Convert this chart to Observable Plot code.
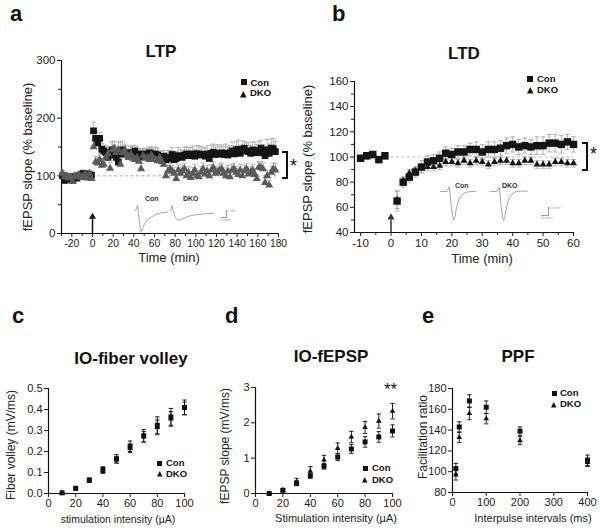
<!DOCTYPE html>
<html><head><meta charset="utf-8">
<script src="https://cdn.jsdelivr.net/npm/d3@7"></script>
<script src="https://cdn.jsdelivr.net/npm/@observablehq/plot@0.6"></script>
<style>
body{margin:0;background:#fff;}
#fig{position:relative;width:600px;height:530px;font-family:"Liberation Sans",Arial,Helvetica,sans-serif;color:#222;overflow:hidden;background:#fff;}
.t{position:absolute;white-space:nowrap;line-height:1;}
.letter{font-weight:bold;font-size:22px;color:#111;}
.title{font-weight:bold;font-size:17px;transform:translateX(-50%);color:#111;}
.xl{transform:translateX(-50%);}
.yl{transform:translate(-50%,-50%) rotate(-90deg);}
.leg{font-weight:bold;font-size:9.5px;color:#111;}
.abs{position:absolute;}
</style>
</head><body><div id="fig"></div>
<script>
// ---------------- DATA ----------------
// Panel a: LTP (time in min, fEPSP slope % baseline, SEM)
const ltpTime = [-29,-27,-25,-23,-21,-19,-17,-15,-13,-11,-9,-7,-5,-3,-1,
 1,3,5,7,9,11,13,15,17,19,21,23,25,27,29,31,33,35,37,39,41,43,45,47,49,51,53,55,57,59,
 61,63,65,67,69,71,73,75,77,79,81,83,85,87,89,91,93,95,97,99,101,103,105,107,109,111,113,115,117,119,
 121,123,125,127,129,131,133,135,137,139,141,143,145,147,149,151,153,155,157,159,161,163,165,167,169,171,173,175,177];
const ltpCon = [100,92,94,97,98,93,98,96,100,102,104,101,103,102,101,
 178,165,157,165,146,143,140,132,136,145, 141,132,124,138,145,138,140,134,136,140,
 143,138,135,133,138,134,136,140,138,134, 138,136,130,131,134,128,130,132,137,128,
 130,135,133,132,136,138,135,137,138,134, 138,138,136,137,134,138,130,139,141,137,
 138,139,140,137,139,136,140,143,138,145, 146,139,144,148,143,142,139,145,142,140,
 144,148,140,135,145,139,148,147,142];
const ltpConErr = [8,7,6,6,6,7,6,6,5,6,6,5,6,6,6,
 15,12,12,10,10,10,12,14,12,14, 12,14,16,20,15,14,12,12,14,12,
 10,12,12,12,10,12,12,10,12,12, 12,12,12,12,10,12,14,12,12,14,
 12,14,12,12,14,12,14,12,14,12, 14,14,14,12,14,14,12,14,14,14,
 16,12,14,14,16,14,12,16,14,14, 16,14,16,12,14,16,14,14,16,14,
 16,14,14,16,18,16,16,18,18];
const ltpDko = [104,98,100,96,98,90,100,98,102,97,100,103,96,104,95,
 150,124,122,128,118,120,132,138,113,145, 148,140,145,120,140,143,135,132,138,130,
 128,132,125,112,135,130,132,128,136,130, 128,126,132,124,120,100,108,112,108,104,
 95,110,104,108,112,100,106,97,104,110, 100,98,106,112,103,108,100,110,114,104,
 106,110,112,104,100,108,98,110,112,106, 102,110,100,108,112,103,106,110,102,95,
 115,114,112,88,100,84,106,112,110];
const ltpDkoErr = [6,6,6,6,6,6,6,6,5,5,6,6,6,6,6,
 12,10,10,10,12,10,10,12,10,14, 12,12,14,12,12,12,12,12,14,12,
 10,10,12,10,12,12,10,10,12,10, 10,12,10,10,10,8,10,10,10,10,
 8,10,10,10,10,10,10,8,10,10, 10,8,10,10,8,10,10,10,10,10,
 10,10,10,10,10,10,8,10,10,10, 10,10,10,10,10,10,10,10,10,8,
 10,10,10,8,10,8,10,10,12];

// Panel b: LTD
const ltdTime = [-10,-8,-6,-4,-2, 2,4,6,8,10,12,14,16,18,20,22,24,26,28,30,32,34,36,38,40,42,44,46,48,50,52,54,56,58,60];
const ltdCon = [99,101,102,98,101, 65,80,84,88,92,96,97,99,103,102, 104,104,106,106,104,106,106,107,109,110, 108,109,108,109,109,111,111,110,112,110];
const ltdConErr = [2,2,2,2,2, 8,4,4,4,5,5,5,5,5,5, 5,5,5,6,6,6,6,6,6,6, 6,6,6,7,7,7,7,7,6,6];
const ltdDko = [99,100,101,97,100, 66,81,87,89,91,92,92,93,96,96, 95,97,95,97,96,94,96,97,97,95, 95,97,97,94,94,94,96,96,95,95];
const ltdDkoErr = [2,2,2,2,2, 7,3,3,3,3,3,3,3,3,3, 3,3,3,3,3,3,3,3,3,3, 3,3,3,3,3,3,3,3,3,3];

// Panel c / d: input-output (stimulation intensity, µA)
const ioIntensity = [10,20,30,40,50,60,70,80,90,100];
const fvCon = [0.003,0.025,0.065,0.115,0.165,0.225,0.275,0.325,0.365,0.41];
const fvConErr = [0.003,0.005,0.007,0.012,0.02,0.025,0.03,0.04,0.04,0.035];
const fvDko = [0.002,0.022,0.06,0.105,0.16,0.215,0.27,0.315,0.355,0.405];
const fvDkoErr = [0.003,0.005,0.007,0.01,0.015,0.02,0.025,0.035,0.035,0.03];
const epCon = [0,0.09,0.29,0.5,0.77,1.03,1.26,1.46,1.6,1.77];
const epConErr = [0.02,0.04,0.07,0.07,0.08,0.1,0.13,0.15,0.15,0.17];
const epDko = [0,0.1,0.33,0.63,0.95,1.28,1.6,1.87,2.05,2.33];
const epDkoErr = [0.02,0.04,0.1,0.13,0.13,0.15,0.16,0.17,0.2,0.22];

// Panel e: PPF
const ppfInterval = [10,20,50,100,200,400];
const ppfCon = [103,143,168,162,139,111];
const ppfConErr = [5,5,6,6,4,5];
const ppfDko = [97,133,156,151,130,109];
const ppfDkoErr = [5,5,6,5,4,4];

// Stimulus time and baseline reference
const stimTime = [0];
const baselineLevel = [100];

// Example traces (ms, mV)
const ltpTraceConT = [0,1,2,3,4,5,6,7,9,12,15,20,25,32];
const ltpTraceConV = [0,0.3,0.7,-0.4,-1.6,-2.8,-3.1,-2.6,-1.9,-1.3,-1.0,-0.6,-0.35,-0.2];
const ltpTraceDkoT = [0,1,1.7,2.5,4,5.5,7,9,12,16,20,26,32,38,43];
const ltpTraceDkoV = [0,0.3,0.7,0.1,-0.6,-1.1,-1.4,-1.35,-1.2,-0.95,-0.75,-0.6,-0.5,-0.45,-0.4];
const ltdTraceConT = [0,8,11,12,13.5,15,16.5,18,20,23,27,32,38,44];
const ltdTraceConV = [0,0,0.3,-0.2,-0.9,-1.5,-1.78,-1.6,-1.0,-0.5,-0.2,-0.05,0,0];
const ltdTraceDkoT = [0,8,11,12,13.5,15,16.5,18,20,23,27,32,38,46];
const ltdTraceDkoV = [0,0,0.25,-0.2,-1.0,-1.6,-1.82,-1.6,-1.0,-0.45,-0.15,0,0.02,0.02];

// Tick labels
const ltpXTicks = [-20,0,20,40,60,80,100,120,140,160,180];
const ltpXMinor = [-30,-10,10,30,50,70,90,110,130,150,170];
const ltpYTicks = [0,100,200,300];
const ltpYMinor = [50,150,250];
const ltdXTicks = [-10,0,10,20,30,40,50,60];
const ltdXMinor = [-5,5,15,25,35,45,55];
const ltdYTicks = [40,60,80,100,120,140,160];
const ltdYMinor = [50,70,90,110,130,150];
const ioXTicks = [0,20,40,60,80,100];
const fvYTicks = [0,0.1,0.2,0.3,0.4,0.5];
const epYTicks = [0,1,2,3];
const ppfXTicks = [0,100,200,300,400];
const ppfYTicks = [80,100,120,140,160,180];

// ---------------- HELPERS ----------------
const fig = document.getElementById("fig");
const FONT = '"Liberation Sans", Arial, Helvetica, sans-serif';
const cap = {draw(ctx, size){ const w = Math.sqrt(size/Math.PI); ctx.moveTo(-w,0); ctx.lineTo(w,0); }};
const rows = (x, v, e) => x.map((t,i) => ({x:t, v:v[i], e:e ? e[i] : 0}));

function text(str, cls, left, top, extra){
  const d = document.createElement("div");
  d.className = "t " + cls;
  d.textContent = str;
  d.style.left = left + "px"; d.style.top = top + "px";
  if (extra) Object.assign(d.style, extra);
  fig.appendChild(d);
  return d;
}
function place(svg, left, top){
  svg.style.position = "absolute"; svg.style.left = left + "px"; svg.style.top = top + "px";
  fig.appendChild(svg);
}
function errBars(data, color, capR, up=true, down=true){
  const m = [Plot.ruleX(data, {x:"x", y1: d => down ? d.v - d.e : d.v, y2: d => up ? d.v + d.e : d.v, stroke: color, strokeWidth: 0.9})];
  if (up) m.push(Plot.dot(data, {x:"x", y: d => d.v + d.e, symbol: cap, r: capR, stroke: color, fill: "none", strokeWidth: 0.9}));
  if (down) m.push(Plot.dot(data, {x:"x", y: d => d.v - d.e, symbol: cap, r: capR, stroke: color, fill: "none", strokeWidth: 0.9}));
  return m;
}
function axes(xd, yd, xt, xm, yt, ym, fmt, xfs, yfs){
  const m = [
    Plot.ruleY([yd[0]], {stroke:"#111", strokeWidth:1.2}),
    Plot.ruleX([xd[0]], {stroke:"#111", strokeWidth:1.2}),
    Plot.axisX({ticks: xt, tickSize: 4, tickPadding: 2, label: null, tickFormat: d => String(d), fontSize: xfs}),
    Plot.axisY({ticks: yt, tickSize: 4, tickPadding: 2, label: null, tickFormat: fmt || (d => String(d)), fontSize: yfs})
  ];
  if (xm) m.push(Plot.axisX({ticks: xm, tickSize: 3, label: null, tickFormat: () => ""}));
  if (ym) m.push(Plot.axisY({ticks: ym, tickSize: 3, label: null, tickFormat: () => ""}));
  return m;
}
function panel(o){
  const svg = Plot.plot({
    width: o.width, height: o.height,
    marginLeft: o.ml, marginRight: o.mr, marginTop: o.mt, marginBottom: o.mb,
    x: {domain: o.xd, axis: null}, y: {domain: o.yd, axis: null},
    style: {background: "transparent", fontFamily: FONT, fontSize: (o.yfs||11) + "px", color: "#222", overflow: "visible"},
    marks: [...axes(o.xd, o.yd, o.xt, o.xm, o.yt, o.ym, o.fmt, o.xfs||11, o.yfs||11), ...o.marks]
  });
  place(svg, o.left, o.top);
}
function inset(left, top, xs, ys, xd, yd, px, py){
  const data = xs.map((t,i) => ({t, v: ys[i]}));
  const svg = Plot.plot({
    width: (xd[1]-xd[0])*px, height: (yd[1]-yd[0])*py, margin: 0,
    x: {domain: xd, axis: null}, y: {domain: yd, axis: null},
    style: {background: "transparent", overflow: "visible"},
    marks: [Plot.line(data, {x:"t", y:"v", stroke:"#9a9a9a", strokeWidth: 0.9})]
  });
  place(svg, left, top);
}
function legendItem(kind, cx, cy, label, size, tx, baseline, color){
  const s = document.createElementNS("http://www.w3.org/2000/svg","svg");
  s.setAttribute("width", size+2); s.setAttribute("height", size+2);
  s.style.position = "absolute"; s.style.left = (cx - size/2 - 1) + "px"; s.style.top = (cy - size/2 - 1) + "px";
  const c = size/2 + 1;
  const el = document.createElementNS("http://www.w3.org/2000/svg", kind === "sq" ? "rect" : "path");
  if (kind === "sq"){ el.setAttribute("x", 1); el.setAttribute("y", 1); el.setAttribute("width", size); el.setAttribute("height", size); }
  else { el.setAttribute("d", `M${c},1L${size+1},${size+1}L1,${size+1}Z`); }
  el.setAttribute("fill", color || "#111");
  s.appendChild(el); fig.appendChild(s);
  text(label, "leg", tx, baseline - 9.5*0.9);
}
function bracket(x, y1, y2){
  const d = document.createElement("div");
  d.className = "abs";
  Object.assign(d.style, {left:(x-5)+"px", top:y1+"px", width:"4px", height:(y2-y1)+"px",
    borderTop:"2px solid #111", borderBottom:"2px solid #111", borderRight:"2.5px solid #111"});
  fig.appendChild(d);
}
function scaleBar(x, y, w, h, t1, t2, fs){
  const d = document.createElement("div");
  d.className = "abs";
  Object.assign(d.style, {left:(x-w)+"px", top:(y-h)+"px", width:w+"px", height:h+"px",
    borderRight:"0.8px solid #999", borderBottom:"0.8px solid #999"});
  fig.appendChild(d);
  text(t1, "", x+1.5, y-h, {fontSize: fs+"px", color:"#999"});
  text(t2, "", x-w-1, y+1.5, {fontSize: fs+"px", color:"#999"});
}

// ---------------- PANEL a : LTP ----------------
const aCon = rows(ltpTime, ltpCon, ltpConErr);
const aDko = rows(ltpTime, ltpDko, ltpDkoErr);
panel({left:0, top:40, width:300, height:215, ml:61, mr:22, mt:20, mb:22,
  xd:[-30,180], yd:[0,300], xt:ltpXTicks, xm:ltpXMinor, yt:ltpYTicks, ym:ltpYMinor, xfs:10.3, yfs:11.5,
  marks:[
    Plot.ruleY(baselineLevel, {x1:0, x2:180, stroke:"#aaa", strokeDasharray:"3,2.5", strokeWidth:1}),
    ...errBars(aDko, "#b0b0b0", 2.5, true, false),
    ...errBars(aCon, "#b0b0b0", 2.5, true, false),
    Plot.dot(aCon, {x:"x", y:"v", symbol:"square", r:3.8, fill:"#151515", stroke:"none"}),
    Plot.dot(aDko, {x:"x", y:"v", symbol:"triangle", r:3, fill:"#5a5a5a", stroke:"none"}),
    Plot.ruleX(stimTime, {y1:0, y2:25, stroke:"#111", strokeWidth:1.5}),
    Plot.dot(stimTime, {x:d=>d, y:29, symbol:"triangle", r:2.6, fill:"#111", stroke:"none"})
  ]});
inset(135, 203, ltpTraceConT, ltpTraceConV, [0,32], [-3.3,1.0], 1, 7);
inset(170, 203, ltpTraceDkoT, ltpTraceDkoV, [0,43], [-3.3,1.0], 1, 7);
text("Con", "", 145, 195, {fontSize:"7px", fontWeight:"bold", color:"#333"});
text("DKO", "", 183, 195, {fontSize:"7px", fontWeight:"bold", color:"#333"});
scaleBar(226, 217, 5, 7, "1 mV", "5 msec", 3.5);
legendItem("sq", 244.3, 82.3, "Con", 6, 250.5, 86.5);
legendItem("tri", 243.5, 94.3, "DKO", 6.5, 250, 97);
bracket(287, 151, 175);
text("*", "", 290, 157, {fontSize:"18px", color:"#111"});
text("a", "letter", 10, 3);
text("LTP", "title", 161, 43);
text("Time (min)", "xl", 169, 251, {fontSize:"13px"});
text("fEPSP slope (% baseline)", "yl", 27, 157, {fontSize:"13px"});

// ---------------- PANEL b : LTD ----------------
const bCon = rows(ltdTime, ltdCon, ltdConErr);
const bDko = rows(ltdTime, ltdDko, ltdDkoErr);
panel({left:300, top:60, width:300, height:195, ml:54, mr:27, mt:21, mb:23,
  xd:[-12,60], yd:[40,160], xt:ltdXTicks, xm:ltdXMinor, yt:ltdYTicks, ym:ltdYMinor, xfs:11.5, yfs:11.5,
  marks:[
    Plot.ruleY(baselineLevel, {x1:0, x2:60, stroke:"#bbb", strokeDasharray:"3,2.5", strokeWidth:1}),
    ...errBars(bDko, "#a8a8a8", 2.5),
    ...errBars(bCon, "#a8a8a8", 2.5),
    Plot.dot(bDko, {x:"x", y:"v", symbol:"triangle", r:2.6, fill:"#151515", stroke:"none"}),
    Plot.dot(bCon, {x:"x", y:"v", symbol:"square", r:4.2, fill:"#151515", stroke:"none"}),
    Plot.ruleX(stimTime, {y1:40, y2:50, stroke:"#333", strokeWidth:1.5}),
    Plot.dot(stimTime, {x:d=>d, y:52, symbol:"triangle", r:2.6, fill:"#333", stroke:"none"})
  ]});
inset(440, 183, ltdTraceConT, ltdTraceConV, [0,44], [-1.9,0.5], 0.8, 16);
inset(490, 183, ltdTraceDkoT, ltdTraceDkoV, [0,46], [-1.9,0.5], 0.8, 16);
text("Con", "", 455, 182, {fontSize:"7px", fontWeight:"bold", color:"#333"});
text("DKO", "", 502, 182, {fontSize:"7px", fontWeight:"bold", color:"#333"});
scaleBar(548, 215, 7, 8, "0.5 mV", "10 msec", 3.5);
legendItem("sq", 530, 79, "Con", 6, 537, 82.5);
legendItem("tri", 530, 90.3, "DKO", 6.5, 537, 93.5);
bracket(587, 142, 167);
text("*", "", 590, 145, {fontSize:"18px", color:"#111"});
text("b", "letter", 332, 3);
text("LTD", "title", 464, 45);
text("Time (min)", "xl", 482, 252, {fontSize:"13px"});
text("fEPSP slope (% baseline)", "yl", 307, 159, {fontSize:"13px"});

// ---------------- PANEL c : IO-fiber volley ----------------
const cCon = rows(ioIntensity, fvCon, fvConErr);
const cDko = rows(ioIntensity, fvDko, fvDkoErr);
panel({left:0, top:370, width:200, height:145, ml:48, mr:16, mt:18, mb:22,
  xd:[0,100], yd:[0,0.5], xt:ioXTicks, yt:fvYTicks, fmt: d => d.toFixed(1), xfs:11, yfs:11,
  marks:[
    ...errBars(cDko, "#111", 2.2),
    ...errBars(cCon, "#111", 2.2),
    Plot.dot(cDko, {x:"x", y:"v", symbol:"triangle", r:2.1, fill:"#111", stroke:"none"}),
    Plot.dot(cCon, {x:"x", y:"v", symbol:"square", r:2.8, fill:"#111", stroke:"none"})
  ]});
legendItem("sq", 159.3, 463.3, "Con", 5, 166, 466.5);
legendItem("tri", 159.3, 474, "DKO", 5.5, 166, 477.5);
text("c", "letter", 12, 305);
text("IO-fiber volley", "title", 131, 350);
text("stimulation intensity (µA)", "xl", 118, 514, {fontSize:"10.5px"});
text("Fiber volley (mV/ms)", "yl", 11, 445, {fontSize:"12px"});

// ---------------- PANEL d : IO-fEPSP ----------------
const dCon = rows(ioIntensity, epCon, epConErr);
const dDko = rows(ioIntensity, epDko, epDkoErr);
panel({left:200, top:370, width:200, height:145, ml:55, mr:8, mt:17, mb:22,
  xd:[0,100], yd:[0,3], xt:ioXTicks, yt:epYTicks, xfs:11, yfs:11,
  marks:[
    ...errBars(dDko, "#111", 2.2),
    ...errBars(dCon, "#111", 2.2),
    Plot.dot(dDko, {x:"x", y:"v", symbol:"triangle", r:2.1, fill:"#111", stroke:"none"}),
    Plot.dot(dCon, {x:"x", y:"v", symbol:"square", r:2.8, fill:"#111", stroke:"none"})
  ]});
legendItem("sq", 365, 468.7, "Con", 5, 372, 471.5);
legendItem("tri", 365, 480, "DKO", 5.5, 372, 483.5);
text("**", "", 384, 381, {fontSize:"17px", color:"#111"});
text("d", "letter", 225, 305);
text("IO-fEPSP", "title", 331, 348);
text("Stimulation intensity (µA)", "xl", 336, 513, {fontSize:"11px"});
text("fEPSP slope (mV/ms)", "yl", 225, 446, {fontSize:"12px"});

// ---------------- PANEL e : PPF ----------------
const eCon = rows(ppfInterval, ppfCon, ppfConErr);
const eDko = rows(ppfInterval, ppfDko, ppfDkoErr);
panel({left:400, top:370, width:200, height:145, ml:52, mr:13, mt:18, mb:23,
  xd:[0,400], yd:[80,180], xt:ppfXTicks, yt:ppfYTicks, xfs:11, yfs:11,
  marks:[
    ...errBars(eDko, "#111", 2.2),
    ...errBars(eCon, "#111", 2.2),
    Plot.dot(eDko, {x:"x", y:"v", symbol:"triangle", r:2.1, fill:"#111", stroke:"none"}),
    Plot.dot(eCon, {x:"x", y:"v", symbol:"square", r:2.8, fill:"#111", stroke:"none"})
  ]});
legendItem("sq", 554, 393.3, "Con", 5, 560, 396.5);
legendItem("tri", 554, 404.7, "DKO", 5.5, 560, 408);
text("e", "letter", 422, 305);
text("PPF", "title", 518, 348);
text("Interpulse intervals (ms)", "xl", 533, 513, {fontSize:"11px"});
text("Facilitation ratio", "yl", 423, 437, {fontSize:"12px"});
</script>
</body></html>
